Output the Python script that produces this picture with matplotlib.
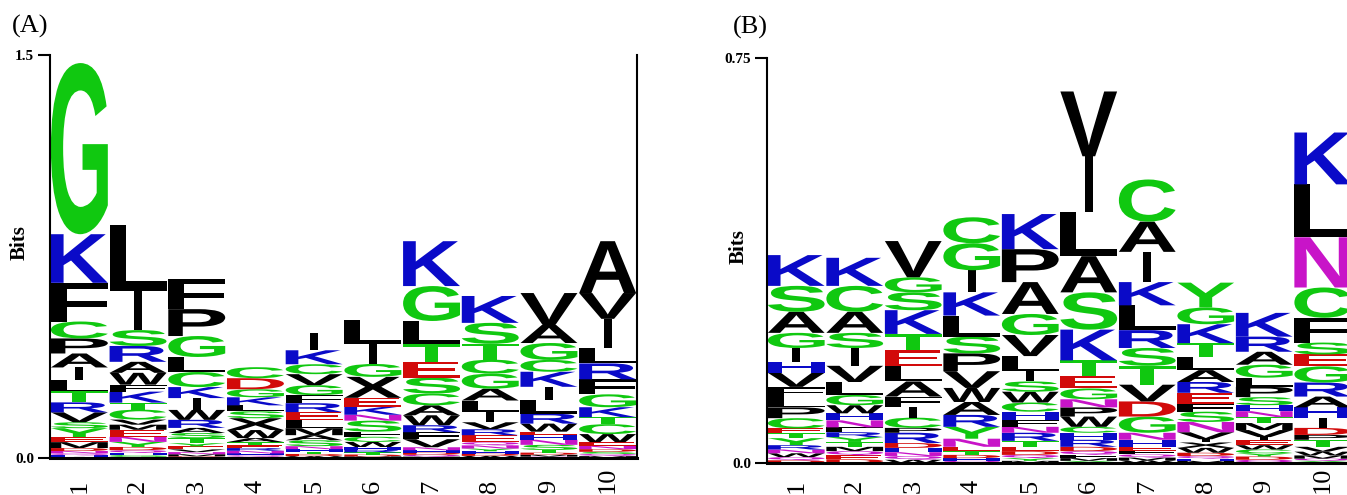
"""Sequence logos of the two motif sets (A) and (B)"""
from matplotlib import pyplot as plt
from matplotlib.font_manager import FontProperties
from matplotlib.patches import PathPatch
from matplotlib.textpath import TextPath
from matplotlib.transforms import Affine2D

# letter stacks per position, listed top to bottom, heights in bits
STACKS_A = [
    [("G", 0.637), ("K", 0.181), ("F", 0.144), ("C", 0.063), ("P", 0.056), ("A", 0.052),
     ("I", 0.048), ("L", 0.041), ("T", 0.041), ("R", 0.037), ("V", 0.037), ("S", 0.022),
     ("Y", 0.033), ("E", 0.019), ("M", 0.022), ("D", 0.011), ("N", 0.009), ("Q", 0.007),
     ("H", 0.006), ("W", 0.004)],
    [("L", 0.248), ("I", 0.144), ("S", 0.059), ("R", 0.059), ("A", 0.041), ("W", 0.044),
     ("F", 0.026), ("K", 0.041), ("T", 0.026), ("C", 0.037), ("V", 0.019), ("M", 0.019),
     ("E", 0.026), ("N", 0.019), ("Y", 0.019), ("D", 0.012), ("Q", 0.010), ("H", 0.008),
     ("G", 0.007), ("P", 0.004)],
    [("F", 0.111), ("P", 0.100), ("G", 0.078), ("L", 0.056), ("C", 0.056), ("K", 0.041),
     ("I", 0.044), ("W", 0.037), ("R", 0.030), ("A", 0.019), ("S", 0.019), ("T", 0.019),
     ("Y", 0.012), ("E", 0.011), ("V", 0.010), ("N", 0.008), ("M", 0.008), ("D", 0.006)],
    [("C", 0.041), ("D", 0.041), ("G", 0.030), ("K", 0.030), ("L", 0.022), ("S", 0.026),
     ("X", 0.044), ("W", 0.030), ("A", 0.015), ("T", 0.012), ("E", 0.010), ("R", 0.010),
     ("N", 0.010), ("H", 0.007), ("Q", 0.006), ("M", 0.004)],
    [("I", 0.063), ("K", 0.052), ("C", 0.037), ("V", 0.041), ("G", 0.037), ("F", 0.030),
     ("R", 0.033), ("E", 0.030), ("L", 0.030), ("M", 0.026), ("A", 0.019), ("S", 0.022),
     ("N", 0.011), ("H", 0.009), ("T", 0.009), ("D", 0.008), ("W", 0.007)],
    [("L", 0.089), ("I", 0.074), ("G", 0.048), ("X", 0.078), ("E", 0.033), ("K", 0.030),
     ("N", 0.022), ("S", 0.041), ("F", 0.019), ("C", 0.019), ("W", 0.019), ("H", 0.011),
     ("R", 0.009), ("T", 0.008), ("D", 0.007), ("M", 0.006)],
    [("K", 0.167), ("G", 0.130), ("L", 0.085), ("T", 0.067), ("E", 0.059), ("S", 0.059),
     ("C", 0.044), ("A", 0.037), ("W", 0.037), ("R", 0.026), ("F", 0.026), ("V", 0.030),
     ("N", 0.011), ("H", 0.009), ("D", 0.008), ("Q", 0.007), ("M", 0.005)],
    [("K", 0.100), ("S", 0.078), ("T", 0.059), ("C", 0.052), ("G", 0.056), ("A", 0.044),
     ("L", 0.044), ("I", 0.037), ("V", 0.026), ("R", 0.022), ("E", 0.026), ("Q", 0.012),
     ("N", 0.012), ("Y", 0.010), ("H", 0.009), ("D", 0.008), ("W", 0.008)],
    [("V", 0.119), ("A", 0.067), ("G", 0.063), ("C", 0.044), ("K", 0.056), ("I", 0.048),
     ("L", 0.052), ("R", 0.037), ("W", 0.030), ("E", 0.011), ("H", 0.019), ("N", 0.019),
     ("S", 0.019), ("T", 0.010), ("D", 0.008), ("M", 0.007), ("Q", 0.005)],
    [("A", 0.193), ("V", 0.096), ("I", 0.107), ("L", 0.059), ("R", 0.059), ("F", 0.056),
     ("G", 0.048), ("K", 0.037), ("T", 0.026), ("C", 0.037), ("W", 0.030), ("E", 0.014),
     ("N", 0.012), ("D", 0.010), ("S", 0.008), ("Q", 0.008), ("M", 0.007)],
]

STACKS_B = [
    [("K", 0.057), ("S", 0.048), ("A", 0.039), ("G", 0.028), ("I", 0.026), ("H", 0.020),
     ("V", 0.026), ("F", 0.019), ("L", 0.019), ("P", 0.020), ("C", 0.019), ("E", 0.009),
     ("T", 0.009), ("Y", 0.013), ("R", 0.008), ("N", 0.007), ("W", 0.007), ("Q", 0.006),
     ("D", 0.005)],
    [("K", 0.052), ("C", 0.048), ("A", 0.039), ("S", 0.028), ("I", 0.033), ("V", 0.030),
     ("L", 0.024), ("G", 0.019), ("W", 0.015), ("H", 0.013), ("N", 0.013), ("F", 0.009),
     ("R", 0.009), ("Y", 0.009), ("T", 0.009), ("M", 0.008), ("Q", 0.008), ("E", 0.007),
     ("D", 0.007)],
    [("V", 0.067), ("G", 0.028), ("S", 0.033), ("K", 0.044), ("T", 0.030), ("E", 0.030),
     ("L", 0.028), ("A", 0.028), ("F", 0.019), ("I", 0.020), ("C", 0.019), ("P", 0.009),
     ("R", 0.019), ("D", 0.009), ("H", 0.008), ("N", 0.007), ("Q", 0.007), ("W", 0.006)],
    [("C", 0.048), ("G", 0.050), ("I", 0.041), ("K", 0.043), ("L", 0.039), ("S", 0.031),
     ("P", 0.033), ("V", 0.031), ("W", 0.026), ("A", 0.024), ("R", 0.022), ("Y", 0.022),
     ("N", 0.015), ("E", 0.008), ("T", 0.007), ("D", 0.006), ("H", 0.005), ("Q", 0.004)],
    [("K", 0.065), ("P", 0.061), ("A", 0.059), ("G", 0.039), ("V", 0.039), ("L", 0.028),
     ("I", 0.019), ("S", 0.019), ("W", 0.020), ("C", 0.017), ("H", 0.015), ("F", 0.013),
     ("N", 0.011), ("R", 0.015), ("T", 0.011), ("E", 0.008), ("D", 0.007), ("Q", 0.006),
     ("Y", 0.005), ("M", 0.004)],
    [("V", 0.120), ("I", 0.104), ("L", 0.081), ("A", 0.067), ("S", 0.069), ("K", 0.057),
     ("T", 0.028), ("E", 0.024), ("G", 0.020), ("N", 0.015), ("P", 0.017), ("W", 0.019),
     ("C", 0.011), ("H", 0.013), ("R", 0.013), ("D", 0.008), ("Q", 0.007), ("F", 0.006),
     ("M", 0.005), ("Y", 0.004)],
    [("C", 0.078), ("A", 0.056), ("I", 0.056), ("K", 0.043), ("L", 0.046), ("R", 0.033),
     ("S", 0.033), ("T", 0.035), ("V", 0.031), ("D", 0.028), ("G", 0.030), ("N", 0.013),
     ("H", 0.013), ("E", 0.007), ("F", 0.007), ("Q", 0.006), ("M", 0.005), ("W", 0.005)],
    [("Y", 0.046), ("G", 0.031), ("K", 0.035), ("T", 0.026), ("L", 0.024), ("A", 0.022),
     ("R", 0.020), ("E", 0.020), ("F", 0.015), ("S", 0.019), ("N", 0.019), ("V", 0.013),
     ("I", 0.006), ("X", 0.010), ("W", 0.009), ("D", 0.006), ("Q", 0.005), ("H", 0.004),
     ("M", 0.004)],
    [("K", 0.044), ("R", 0.028), ("A", 0.024), ("G", 0.024), ("L", 0.017), ("P", 0.019),
     ("S", 0.015), ("H", 0.011), ("N", 0.011), ("T", 0.011), ("M", 0.013), ("V", 0.013),
     ("I", 0.006), ("E", 0.009), ("W", 0.008), ("C", 0.007), ("Y", 0.006), ("D", 0.006),
     ("Q", 0.006)],
    [("K", 0.096), ("L", 0.098), ("N", 0.093), ("C", 0.056), ("F", 0.046), ("S", 0.022),
     ("E", 0.022), ("G", 0.030), ("R", 0.026), ("A", 0.020), ("H", 0.019), ("I", 0.019),
     ("D", 0.013), ("P", 0.009), ("T", 0.013), ("V", 0.009), ("W", 0.007), ("M", 0.006),
     ("Q", 0.004), ("Y", 0.004)],
]

POSITIONS = list(range(1, 11))
PANEL_LABELS = ["(A)", "(B)"]
Y_MAX = [1.5, 0.75]
Y_TICK_LABELS = [["0.0", "1.5"], ["0.0", "0.75"]]

GREEN = "#10c810"
BLUE = "#0a0ac8"
RED = "#d20a0a"
MAGENTA = "#c814c8"
BLACK = "#000000"
COLORS = {
    "G": GREEN, "S": GREEN, "T": GREEN, "Y": GREEN, "C": GREEN, "Q": MAGENTA,
    "N": MAGENTA, "K": BLUE, "R": BLUE, "H": BLUE, "D": RED, "E": RED,
}

LETTER_FONT = FontProperties(family="Liberation Sans", weight="bold")
SERIF = "Liberation Serif"
_paths = {}


def letter_path(letter):
    """Cached glyph outline for a letter"""
    if letter not in _paths:
        _paths[letter] = TextPath((0, 0), letter, size=1, prop=LETTER_FONT)
    return _paths[letter]


def draw_letter(ax, letter, x, y, height):
    """Stretch a glyph into the box of one stack entry"""
    path = letter_path(letter)
    bb = path.get_extents()
    width = 0.14 if letter == "I" else 0.97
    tr = (
        Affine2D()
        .translate(-bb.x0, -bb.y0)
        .scale(width / bb.width, height / bb.height)
        .translate(x - width / 2, y)
    )
    ax.add_patch(
        PathPatch(tr.transform_path(path), facecolor=COLORS.get(letter, BLACK),
                  edgecolor="none", lw=0)
    )


def draw_logo(ax, stacks, ymax, ytick_labels, right_spine, label_x, xpad):
    """Draw one sequence logo"""
    for pos, stack in zip(POSITIONS, stacks):
        y = 0.0
        for letter, height in reversed(stack):
            draw_letter(ax, letter, pos, y, height)
            y += height

    ax.set_xlim(0.5, 10.5)
    ax.set_ylim(0, ymax)
    # tick_params resets label alignment, so it goes before the labels
    ax.tick_params(axis="x", length=0, pad=xpad)
    ax.tick_params(axis="y", length=8.5, width=1.5, pad=3)
    ax.set_xticks(POSITIONS)
    # labels start at a common point below the axis and read upwards
    ax.set_xticklabels([str(p) for p in POSITIONS], rotation=90, family=SERIF,
                       fontsize=19, va="bottom", ha="center")
    ax.set_yticks([0, ymax])
    ax.set_yticklabels(ytick_labels, family=SERIF, fontweight="bold", fontsize=11)
    ax.set_ylabel("Bits", family=SERIF, fontweight="bold", fontsize=15)
    ax.yaxis.set_label_coords(label_x, 0.535)

    ax.spines["top"].set_visible(False)
    ax.spines["right"].set_visible(right_spine)
    for side in ("left", "bottom", "right"):
        ax.spines[side].set_linewidth(1.5)
    ax.spines["bottom"].set_linewidth(2.2)


fig = plt.figure(figsize=(13.47, 4.95), dpi=100)
ax_a = fig.add_axes([50 / 1347, 37 / 495, 587 / 1347, 403 / 495])
ax_b = fig.add_axes([767 / 1347, 32 / 495, 585 / 1347, 405 / 495])

draw_logo(ax_a, STACKS_A, Y_MAX[0], Y_TICK_LABELS[0], True, -0.034, 25)
draw_logo(ax_b, STACKS_B, Y_MAX[1], Y_TICK_LABELS[1], False, -0.032, 21.5)

fig.text(12 / 1347, 1 - 26 / 495, PANEL_LABELS[0], family=SERIF, fontsize=19, va="center")
fig.text(733 / 1347, 1 - 27 / 495, PANEL_LABELS[1], family=SERIF, fontsize=19, va="center")

plt.savefig("out.png", dpi=100)
